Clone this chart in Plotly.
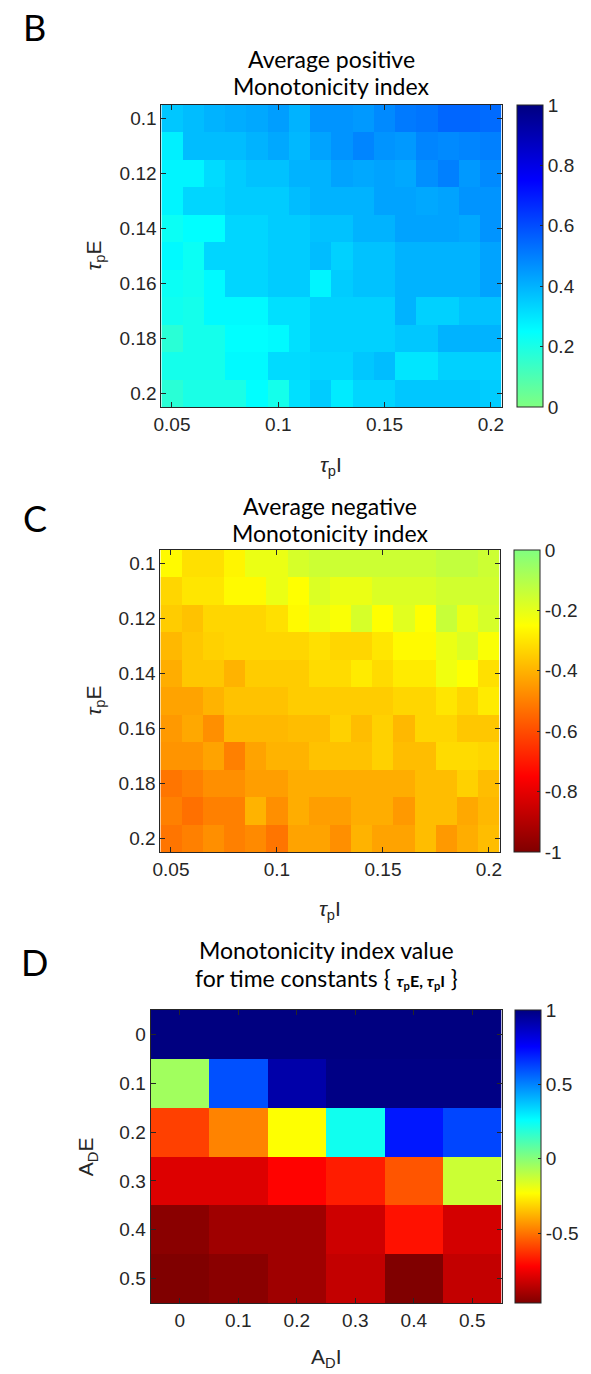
import plotly.graph_objects as go

# ---- grid coordinates ----
tau_i = [0.05, 0.06, 0.07, 0.08, 0.09, 0.10, 0.11, 0.12, 0.13, 0.14, 0.15, 0.16, 0.17, 0.18, 0.19, 0.20]
tau_e = [0.10, 0.11, 0.12, 0.13, 0.14, 0.15, 0.16, 0.17, 0.18, 0.19, 0.20]
amp_i = [0.0, 0.1, 0.2, 0.3, 0.4, 0.5]
amp_e = [0.0, 0.1, 0.2, 0.3, 0.4, 0.5]

# ---- tick labels ----
tau_i_ticks = [0.05, 0.1, 0.15, 0.2]
tau_i_labels = ["0.05", "0.1", "0.15", "0.2"]
tau_e_ticks = [0.1, 0.12, 0.14, 0.16, 0.18, 0.2]
tau_e_labels = ["0.1", "0.12", "0.14", "0.16", "0.18", "0.2"]
amp_ticks = [0.0, 0.1, 0.2, 0.3, 0.4, 0.5]
amp_labels = ["0", "0.1", "0.2", "0.3", "0.4", "0.5"]
pos_cb_ticks = [0, 0.2, 0.4, 0.6, 0.8, 1]
pos_cb_labels = ["0", "0.2", "0.4", "0.6", "0.8", "1"]
neg_cb_ticks = [-1, -0.8, -0.6, -0.4, -0.2, 0]
neg_cb_labels = ["-1", "-0.8", "-0.6", "-0.4", "-0.2", "0"]
mono_cb_ticks = [-0.5, 0, 0.5, 1]
mono_cb_labels = ["-0.5", "0", "0.5", "1"]

# ---- average positive monotonicity index (rows: tau_p E, cols: tau_p I) ----
pos_index = [
    [0.36, 0.38, 0.40, 0.41, 0.42, 0.44, 0.40, 0.46, 0.46, 0.45, 0.48, 0.51, 0.52, 0.55, 0.55, 0.54],
    [0.28, 0.38, 0.38, 0.38, 0.40, 0.42, 0.39, 0.43, 0.46, 0.49, 0.46, 0.45, 0.49, 0.48, 0.49, 0.50],
    [0.27, 0.27, 0.32, 0.35, 0.37, 0.37, 0.40, 0.40, 0.43, 0.42, 0.43, 0.42, 0.47, 0.50, 0.45, 0.48],
    [0.27, 0.33, 0.33, 0.35, 0.35, 0.35, 0.38, 0.40, 0.40, 0.40, 0.43, 0.43, 0.42, 0.43, 0.46, 0.46],
    [0.23, 0.25, 0.25, 0.33, 0.33, 0.35, 0.35, 0.37, 0.37, 0.40, 0.40, 0.43, 0.43, 0.43, 0.42, 0.46],
    [0.26, 0.23, 0.33, 0.33, 0.33, 0.35, 0.35, 0.38, 0.34, 0.37, 0.37, 0.40, 0.40, 0.40, 0.40, 0.43],
    [0.23, 0.22, 0.26, 0.33, 0.33, 0.35, 0.35, 0.27, 0.35, 0.37, 0.37, 0.40, 0.40, 0.40, 0.40, 0.43],
    [0.22, 0.21, 0.26, 0.26, 0.26, 0.31, 0.31, 0.34, 0.34, 0.34, 0.34, 0.40, 0.34, 0.34, 0.37, 0.37],
    [0.17, 0.21, 0.21, 0.25, 0.25, 0.26, 0.31, 0.34, 0.34, 0.34, 0.34, 0.36, 0.36, 0.40, 0.40, 0.40],
    [0.21, 0.21, 0.21, 0.26, 0.26, 0.32, 0.32, 0.33, 0.33, 0.36, 0.38, 0.30, 0.30, 0.34, 0.34, 0.34],
    [0.17, 0.20, 0.20, 0.20, 0.25, 0.21, 0.31, 0.35, 0.29, 0.33, 0.33, 0.36, 0.36, 0.36, 0.36, 0.35],
]

# ---- average negative monotonicity index ----
neg_index = [
    [-0.26, -0.31, -0.31, -0.27, -0.21, -0.21, -0.17, -0.15, -0.15, -0.15, -0.15, -0.15, -0.15, -0.13, -0.13, -0.15],
    [-0.33, -0.30, -0.30, -0.26, -0.26, -0.21, -0.25, -0.18, -0.21, -0.21, -0.18, -0.18, -0.18, -0.16, -0.16, -0.16],
    [-0.35, -0.37, -0.33, -0.33, -0.33, -0.31, -0.26, -0.21, -0.24, -0.17, -0.25, -0.19, -0.25, -0.14, -0.21, -0.17],
    [-0.39, -0.36, -0.34, -0.33, -0.33, -0.33, -0.33, -0.31, -0.33, -0.33, -0.30, -0.26, -0.26, -0.21, -0.18, -0.24],
    [-0.41, -0.36, -0.36, -0.40, -0.35, -0.35, -0.35, -0.32, -0.32, -0.29, -0.32, -0.29, -0.29, -0.22, -0.25, -0.31],
    [-0.43, -0.43, -0.40, -0.37, -0.37, -0.37, -0.35, -0.35, -0.35, -0.35, -0.35, -0.33, -0.33, -0.30, -0.33, -0.29],
    [-0.45, -0.42, -0.47, -0.39, -0.39, -0.39, -0.38, -0.38, -0.34, -0.38, -0.34, -0.39, -0.33, -0.33, -0.36, -0.36],
    [-0.46, -0.46, -0.43, -0.50, -0.43, -0.40, -0.40, -0.37, -0.37, -0.37, -0.34, -0.38, -0.38, -0.32, -0.32, -0.33],
    [-0.52, -0.50, -0.47, -0.47, -0.44, -0.44, -0.41, -0.41, -0.41, -0.41, -0.41, -0.41, -0.38, -0.38, -0.34, -0.38],
    [-0.50, -0.53, -0.50, -0.50, -0.40, -0.47, -0.41, -0.44, -0.44, -0.41, -0.41, -0.45, -0.38, -0.38, -0.42, -0.39],
    [-0.52, -0.50, -0.47, -0.50, -0.48, -0.52, -0.43, -0.43, -0.47, -0.40, -0.43, -0.43, -0.38, -0.45, -0.41, -0.38],
]

# ---- monotonicity index for fixed time constants (rows: A_D E, cols: A_D I) ----
mono_index = [
    [1.00, 1.00, 1.00, 1.00, 1.00, 1.00],
    [-0.05, 0.60, 0.92, 0.99, 0.99, 0.99],
    [-0.60, -0.47, -0.23, 0.23, 0.71, 0.62],
    [-0.79, -0.79, -0.72, -0.67, -0.56, -0.13],
    [-0.95, -0.91, -0.91, -0.82, -0.69, -0.81],
    [-0.97, -0.95, -0.91, -0.84, -0.97, -0.84],
]

# ---- colour maps (flipped jet) ----
JET_R = [[0.0, "rgb(128,0,0)"], [0.125, "rgb(255,0,0)"], [0.375, "rgb(255,255,0)"],
         [0.625, "rgb(0,255,255)"], [0.875, "rgb(0,0,255)"], [1.0, "rgb(0,0,128)"]]
JET_R_UPPER = [[0.0, "rgb(128,255,128)"], [0.25, "rgb(0,255,255)"],
               [0.75, "rgb(0,0,255)"], [1.0, "rgb(0,0,128)"]]
JET_R_LOWER = [[0.0, "rgb(128,0,0)"], [0.25, "rgb(255,0,0)"],
               [0.75, "rgb(255,255,0)"], [1.0, "rgb(128,255,128)"]]

W, H = 591, 1374
INK = "#262626"
TICK_FONT = dict(family="Liberation Sans, Arial, sans-serif", size=19, color=INK)
TITLE_FONT = "Lato, 'Open Sans', sans-serif"


def px_x(p):
    return p / W


def px_y(p):
    return 1 - p / H


# plot boxes in pixels: (left, right, top, bottom)
boxes = {
    "B": (156, 502, 105, 407),
    "C": (155, 500, 550, 852),
    "D": (145, 502, 1010, 1303),
}
cbar_left = {"B": 518, "C": 515, "D": 516}


def colorbar(key, ticks, labels):
    l, r, t, b = boxes[key]
    return dict(
        x=px_x(cbar_left[key]), xanchor="left",
        y=px_y(t), yanchor="top",
        len=(b - t) / H, lenmode="fraction",
        thickness=26, thicknessmode="pixels",
        outlinewidth=1, outlinecolor=INK,
        tickvals=ticks, ticktext=labels,
        ticks="inside", ticklen=3, tickcolor=INK,
        tickfont=TICK_FONT, xpad=0, ypad=0,
    )


fig = go.Figure()

fig.add_trace(go.Heatmap(
    x=tau_i, y=tau_e, z=pos_index, zmin=0, zmax=1,
    colorscale=JET_R_UPPER, colorbar=colorbar("B", pos_cb_ticks, pos_cb_labels),
    xaxis="x", yaxis="y", hoverinfo="skip",
))
fig.add_trace(go.Heatmap(
    x=tau_i, y=tau_e, z=neg_index, zmin=-1, zmax=0,
    colorscale=JET_R_LOWER, colorbar=colorbar("C", neg_cb_ticks, neg_cb_labels),
    xaxis="x2", yaxis="y2", hoverinfo="skip",
))
mono_flat = [v for row in mono_index for v in row]
fig.add_trace(go.Heatmap(
    x=amp_i, y=amp_e, z=mono_index, zmin=min(mono_flat), zmax=max(mono_flat),
    colorscale=JET_R, colorbar=colorbar("D", mono_cb_ticks, mono_cb_labels),
    xaxis="x3", yaxis="y3", hoverinfo="skip",
))


def axis(domain, rng, tickvals, ticktext, anchor):
    return dict(
        domain=domain, range=rng, tickvals=tickvals, ticktext=ticktext,
        anchor=anchor, showline=True, linecolor=INK, linewidth=1, mirror="ticks",
        ticks="inside", ticklen=5, tickcolor=INK, tickfont=TICK_FONT,
        showgrid=False, zeroline=False, layer="above traces",
    )


layout = {}
for key, xa, ya, xr, yr, xt, yt in [
    ("B", "xaxis", "yaxis", [0.045, 0.205], [0.205, 0.095],
     (tau_i_ticks, tau_i_labels), (tau_e_ticks, tau_e_labels)),
    ("C", "xaxis2", "yaxis2", [0.045, 0.205], [0.205, 0.095],
     (tau_i_ticks, tau_i_labels), (tau_e_ticks, tau_e_labels)),
    ("D", "xaxis3", "yaxis3", [-0.05, 0.55], [0.55, -0.05],
     (amp_ticks, amp_labels), (amp_ticks, amp_labels)),
]:
    l, r, t, b = boxes[key]
    xname = "x" + xa[5:]
    yname = "y" + ya[5:]
    layout[xa] = axis([px_x(l), px_x(r)], xr, xt[0], xt[1], yname)
    layout[ya] = axis([px_y(b), px_y(t)], yr, yt[0], yt[1], xname)

annotations = []


def text(x, y, s, size, family=TITLE_FONT, angle=0, color="black"):
    annotations.append(dict(
        x=px_x(x), y=px_y(y), xref="paper", yref="paper", text=s, showarrow=False,
        xanchor="center", yanchor="middle", textangle=angle,
        font=dict(family=family, size=size, color=color),
    ))


# panel letters
text(27, 27, "B", 36)
text(27, 518, "C", 36)
text(27, 962, "D", 36)

# titles
cx_b = (boxes["B"][0] + boxes["B"][1]) / 2
cx_c = (boxes["C"][0] + boxes["C"][1]) / 2
cx_d = (boxes["D"][0] + boxes["D"][1]) / 2
text(cx_b, 59, "Average positive", 23)
text(cx_b, 86, "Monotonicity index", 23)
text(cx_c, 506, "Average negative", 23)
text(cx_c, 533, "Monotonicity index", 23)
text(cx_d, 950, "Monotonicity index value", 23)
text(cx_d, 978,
     "for time constants { <span style='font-size:16px'><b><i>τ</i><sub>p</sub>E, "
     "<i>τ</i><sub>p</sub>I</b></span> }", 23)

# axis labels
AX_FONT = "Liberation Sans, Arial, sans-serif"
text(cx_b, 466, "<i>τ</i><sub>p</sub>I", 21, AX_FONT, color=INK)
text(cx_c, 910, "<i>τ</i><sub>p</sub>I", 21, AX_FONT, color=INK)
text(cx_d, 1358, "A<sub>D</sub>I", 21, AX_FONT, color=INK)
text(88, (boxes["B"][2] + boxes["B"][3]) / 2, "<i>τ</i><sub>p</sub>E", 21, AX_FONT, -90, INK)
text(88, (boxes["C"][2] + boxes["C"][3]) / 2, "<i>τ</i><sub>p</sub>E", 21, AX_FONT, -90, INK)
text(80, (boxes["D"][2] + boxes["D"][3]) / 2, "A<sub>D</sub>E", 21, AX_FONT, -90, INK)

fig.update_layout(
    width=W, height=H, margin=dict(l=0, r=0, t=0, b=0),
    paper_bgcolor="white", plot_bgcolor="white",
    annotations=annotations, **layout,
)

fig.write_html("out.html")
